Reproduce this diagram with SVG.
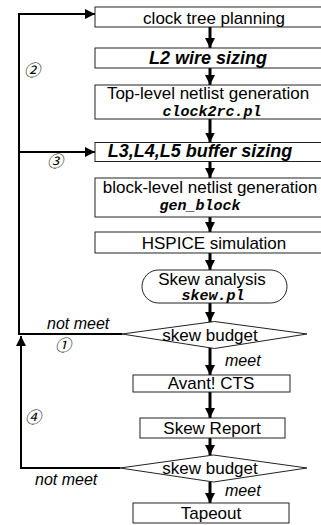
<svg xmlns="http://www.w3.org/2000/svg" width="321" height="525" viewBox="0 0 321 525">
  <defs>
    <marker id="head" viewBox="0 0 10 10" refX="10" refY="5" markerWidth="10" markerHeight="10" markerUnits="userSpaceOnUse" orient="auto">
      <path d="M0,0 L10,5 L0,10 Z" fill="#000"/>
    </marker>
  </defs>
  <style>
    .box { fill: #fff; stroke: #222; stroke-width: 1; }
    .t { font-family: "Liberation Sans", Arial, sans-serif; font-size: 17px; fill: #000; text-anchor: middle; }
    .bi { font-weight: bold; font-style: italic; font-size: 18px; }
    .mono { font-family: "Liberation Mono", "Courier New", monospace; font-weight: bold; font-style: italic; font-size: 15px; }
    .lbl { font-family: "Liberation Sans", Arial, sans-serif; font-size: 16px; font-style: italic; fill: #000; }
    .num { font-family: "Noto Sans CJK JP", "DejaVu Sans", sans-serif; font-size: 16px; font-style: italic; fill: #000; text-anchor: middle; }
    .flow { stroke: #000; stroke-width: 3; fill: none; }
    .loop { stroke: #000; stroke-width: 2; fill: none; }
  </style>

  <g id="connectors">
    <!-- main downward flow -->
    <line class="flow" x1="210" y1="27" x2="210" y2="48" marker-end="url(#head)"/>
    <line class="flow" x1="210" y1="68" x2="210" y2="85" marker-end="url(#head)"/>
    <line class="flow" x1="210" y1="119" x2="210" y2="142.5" marker-end="url(#head)"/>
    <line class="flow" x1="210" y1="162" x2="210" y2="178" marker-end="url(#head)"/>
    <line class="flow" x1="210" y1="217" x2="210" y2="232" marker-end="url(#head)"/>
    <line class="flow" x1="210" y1="253" x2="210" y2="270" marker-end="url(#head)"/>
    <line class="flow" x1="210" y1="303" x2="210" y2="322" marker-end="url(#head)"/>
    <line class="flow" x1="210" y1="348" x2="210" y2="375" marker-end="url(#head)"/>
    <line class="flow" x1="210" y1="392" x2="210" y2="418" marker-end="url(#head)"/>
    <line class="flow" x1="210" y1="438" x2="210" y2="455" marker-end="url(#head)"/>
    <line class="flow" x1="210" y1="482" x2="210" y2="503" marker-end="url(#head)"/>
    <!-- feedback from first skew budget -->
    <polyline class="loop" points="122,334 19,334 19,14 95,14" marker-end="url(#head)"/>
    <line class="loop" x1="19" y1="152" x2="95" y2="152" marker-end="url(#head)"/>
    <!-- feedback from second skew budget -->
    <polyline class="loop" points="120,468 21,468 21,336" marker-end="url(#head)"/>
  </g>

  <g id="n-planning">
    <rect class="box" x="95" y="7" width="230" height="20"/>
    <text class="t" x="214" y="24">clock tree planning</text>
  </g>
  <g id="n-l2">
    <rect class="box" x="95" y="48" width="230" height="20"/>
    <text class="t bi" x="208" y="64">L2 wire sizing</text>
  </g>
  <g id="n-toplevel">
    <rect class="box" x="95" y="85" width="230" height="34"/>
    <text class="t" x="208" y="99">Top-level netlist generation</text>
    <text class="t mono" x="212" y="116">clock2rc.pl</text>
  </g>
  <g id="n-l345">
    <rect class="box" x="95" y="142.5" width="230" height="19"/>
    <text class="t bi" x="200" y="157">L3,L4,L5 buffer sizing</text>
  </g>
  <g id="n-blocklevel">
    <rect class="box" x="95" y="178" width="230" height="39"/>
    <text class="t" x="210" y="193">block-level netlist generation</text>
    <text class="t mono" x="200" y="210">gen_block</text>
  </g>
  <g id="n-hspice">
    <rect class="box" x="95" y="232" width="230" height="21"/>
    <text class="t" x="214" y="249">HSPICE simulation</text>
  </g>
  <g id="n-skewanalysis">
    <rect class="box" x="142" y="270" width="145" height="33" rx="16.5" ry="16.5"/>
    <text class="t" x="212" y="285">Skew analysis</text>
    <text class="t mono" x="213" y="300">skew.pl</text>
  </g>
  <g id="n-budget1">
    <polygon class="box" points="122,334 214.5,321.5 307,334 214.5,348.5"/>
    <text class="t" x="210" y="341">skew budget</text>
  </g>
  <g id="n-avant">
    <rect class="box" x="133" y="375" width="157" height="17"/>
    <text class="t" x="211" y="389">Avant! CTS</text>
  </g>
  <g id="n-report">
    <rect class="box" x="140" y="418" width="145" height="20"/>
    <text class="t" x="212" y="434">Skew Report</text>
  </g>
  <g id="n-budget2">
    <polygon class="box" points="120,468 213.5,455 307,468 213.5,482"/>
    <text class="t" x="210" y="474">skew budget</text>
  </g>
  <g id="n-tapeout">
    <rect class="box" x="133" y="503" width="156" height="20"/>
    <text class="t" x="211" y="519">Tapeout</text>
  </g>

  <g id="labels">
    <text class="lbl" x="47" y="329">not meet</text>
    <text class="lbl" x="225" y="366">meet</text>
    <text class="lbl" x="35" y="485">not meet</text>
    <text class="lbl" x="225" y="496">meet</text>
    <text class="num" x="32" y="76">②</text>
    <text class="num" x="55" y="167">③</text>
    <text class="num" x="63" y="351">①</text>
    <text class="num" x="33" y="423">④</text>
  </g>
</svg>
